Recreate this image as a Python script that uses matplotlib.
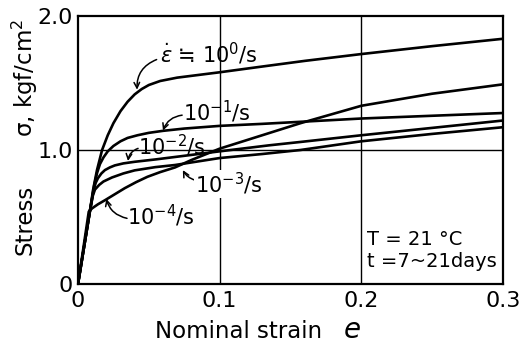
import matplotlib
matplotlib.use("Agg")
import matplotlib.pyplot as plt

# ---- data ----
x_e0 = [0, 0.0085, 0.0106, 0.0134, 0.017, 0.021, 0.025, 0.030, 0.035, 0.040, 0.045, 0.050, 0.058, 0.070, 0.085, 0.10, 0.128, 0.16, 0.20, 0.25, 0.30]
y_e0 = [0, 0.55, 0.70, 0.85, 1.00, 1.11, 1.20, 1.29, 1.36, 1.415, 1.455, 1.485, 1.515, 1.54, 1.56, 1.58, 1.62, 1.665, 1.716, 1.775, 1.83]

x_e1 = [0, 0.0085, 0.0115, 0.0135, 0.0155, 0.018, 0.021, 0.025, 0.030, 0.035, 0.042, 0.050, 0.060, 0.075, 0.10, 0.13, 0.20, 0.30]
y_e1 = [0, 0.55, 0.74, 0.83, 0.895, 0.945, 0.99, 1.03, 1.065, 1.09, 1.11, 1.128, 1.143, 1.16, 1.18, 1.195, 1.235, 1.276]

x_e2 = [0, 0.0085, 0.011, 0.0125, 0.0141, 0.0165, 0.019, 0.0225, 0.026, 0.032, 0.040, 0.055, 0.0685, 0.10, 0.135, 0.157, 0.20, 0.25, 0.30]
y_e2 = [0, 0.55, 0.70, 0.755, 0.79, 0.825, 0.85, 0.87, 0.885, 0.90, 0.912, 0.93, 0.948, 0.99, 1.035, 1.06, 1.11, 1.165, 1.22]

x_e3 = [0, 0.0085, 0.0105, 0.012, 0.015, 0.018, 0.024, 0.032, 0.040, 0.0545, 0.0685, 0.10, 0.13, 0.157, 0.20, 0.25, 0.30]
y_e3 = [0, 0.55, 0.66, 0.705, 0.74, 0.765, 0.795, 0.825, 0.848, 0.872, 0.888, 0.94, 0.97, 1.00, 1.065, 1.12, 1.17]

x_e4 = [0, 0.0076, 0.0100, 0.0141, 0.019, 0.026, 0.033, 0.041, 0.049, 0.058, 0.0685, 0.080, 0.10, 0.121, 0.157, 0.20, 0.25, 0.30]
y_e4 = [0, 0.54, 0.565, 0.595, 0.625, 0.67, 0.715, 0.76, 0.80, 0.835, 0.87, 0.925, 1.01, 1.08, 1.20, 1.33, 1.42, 1.49]

xticks = [0, 0.1, 0.2, 0.3]
xticklabels = ["0", "0.1", "0.2", "0.3"]
yticks = [0, 1.0, 2.0]
yticklabels = ["0", "1.0", "2.0"]

FS = 16
fig = plt.figure(figsize=(5.21, 3.44), dpi=100)
ax = fig.add_axes([78/521, 1-284/344, (503-78)/521, (284-16)/344])

ax.set_xlim(0, 0.3)
ax.set_ylim(0, 2.0)

# grid lines
for gx in [0.1, 0.2]:
    ax.axvline(gx, color="black", lw=1.0, zorder=1)
ax.axhline(1.0, color="black", lw=1.0, zorder=1)

lw = 1.9
for xs, ys in [(x_e0, y_e0), (x_e1, y_e1), (x_e2, y_e2), (x_e3, y_e3), (x_e4, y_e4)]:
    ax.plot(xs, ys, color="black", lw=lw, solid_joinstyle="round", solid_capstyle="round", zorder=3)

for s in ax.spines.values():
    s.set_linewidth(1.6)

ax.set_xticks(xticks)
ax.set_xticklabels(xticklabels, fontsize=FS)
ax.set_yticks(yticks)
ax.set_yticklabels(yticklabels, fontsize=FS)
ax.tick_params(length=0, pad=4)
ax.tick_params(axis="x", pad=5)

# curve labels
tfs = 15
bb = dict(facecolor="white", edgecolor="none", pad=0.5)
ax.text(0.058, 1.72, r"$\dot{\epsilon}$ ≒ 10$^{0}$/s", fontsize=tfs, ha="left", va="center", zorder=4)
ax.text(0.074, 1.285, r"10$^{-1}$/s", fontsize=tfs, ha="left", va="center", zorder=4)
ax.text(0.0424, 1.03, r"10$^{-2}$/s", fontsize=tfs, ha="left", va="center", zorder=4)
ax.text(0.0826, 0.745, r"10$^{-3}$/s", fontsize=tfs, ha="left", va="center", zorder=4, bbox=bb)
ax.text(0.0346, 0.51, r"10$^{-4}$/s", fontsize=tfs, ha="left", va="center", zorder=4)

ap = dict(arrowstyle="->", lw=1.1, color="black", mutation_scale=10, shrinkA=0, shrinkB=0)
ax.annotate("", xy=(0.0417, 1.45), xytext=(0.0555, 1.675),
            arrowprops=dict(ap, connectionstyle="arc3,rad=0.35"))
ax.annotate("", xy=(0.060, 1.145), xytext=(0.0735, 1.26),
            arrowprops=dict(ap, connectionstyle="arc3,rad=0.3"))
ax.annotate("", xy=(0.0353, 0.918), xytext=(0.0424, 1.012),
            arrowprops=dict(ap, connectionstyle="arc3,rad=0.3"))
ax.annotate("", xy=(0.074, 0.85), xytext=(0.0826, 0.775),
            arrowprops=dict(ap, connectionstyle="arc3,rad=-0.2"))
ax.annotate("", xy=(0.020, 0.635), xytext=(0.0346, 0.49),
            arrowprops=dict(ap, connectionstyle="arc3,rad=-0.3"))

ax.text(0.204, 0.33, "T = 21 °C", fontsize=14, ha="left", va="center")
ax.text(0.204, 0.165, "t =7~21days", fontsize=14, ha="left", va="center")

# axis labels
fig.text(25/521, 1-220/344, "Stress", rotation=90, fontsize=16.5, ha="center", va="center")
fig.text(25/521, 1-78/344, "σ, kgf/cm$^2$", rotation=90, fontsize=16.5, ha="center", va="center")
fig.text(155/521, 1-338/344, "Nominal strain", fontsize=16.5, ha="left", va="baseline")
fig.text(343/521, 1-338/344, "$e$", fontsize=20, ha="left", va="baseline")

fig.savefig("out.png", dpi=100)
